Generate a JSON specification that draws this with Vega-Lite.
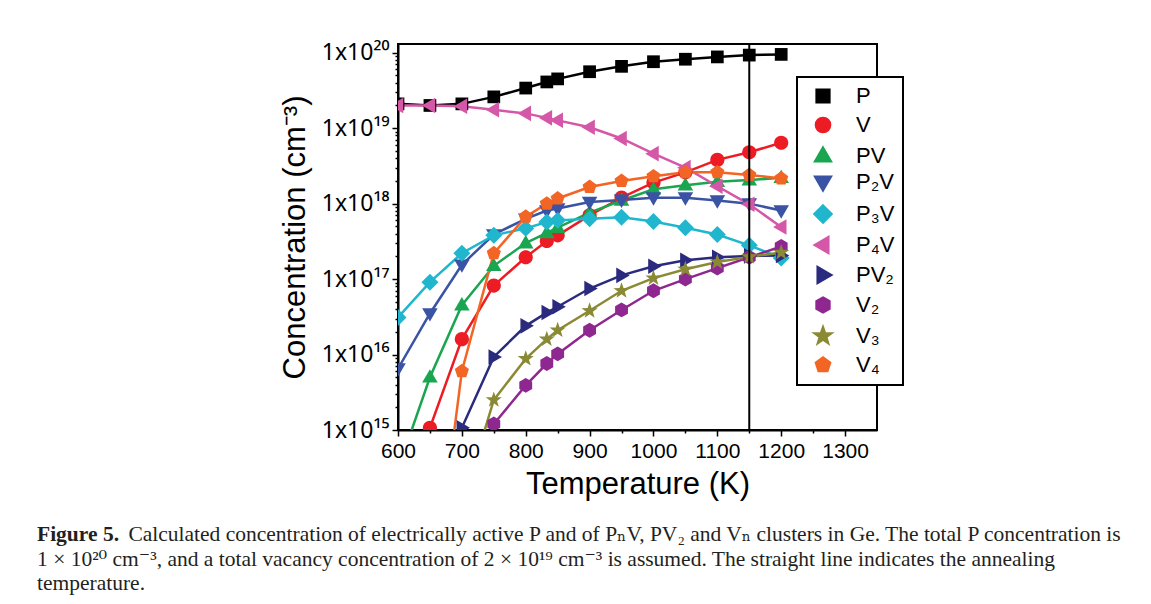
{
  "$schema": "https://vega.github.io/schema/vega-lite/v6.json",
  "width": 479,
  "height": 386,
  "autosize": {"type": "none"},
  "padding": {"left": 398, "top": 44, "right": 274, "bottom": 174},
  "background": "white",
  "config": {
    "view": {"stroke": "black", "strokeWidth": 2},
    "axis": {"grid": false, "domainColor": "black", "domainWidth": 2, "tickColor": "black", "tickWidth": 1.5, "labelColor": "black", "titleColor": "black", "labelFont": "Liberation Sans", "titleFont": "Liberation Sans", "titleFontWeight": "normal", "labelFlush": false},
    "legend": {"orient": "none", "legendX": 399, "legendY": 33, "title": null, "fillColor": "white", "strokeColor": "black", "padding": 8,
               "symbolOffset": 7, "labelOffset": 22, "rowPadding": 4, "labelFontSize": 22, "labelFont": "Liberation Sans", "labelColor": "black", "symbolSize": 200, "symbolStrokeWidth": 2.5, "labelLimit": 300}
  },
  "title": {
    "text": "Figure 5.",
    "subtitle": [
      "\u200b\u00a0\u00a0\u00a0\u00a0\u00a0\u00a0\u00a0\u00a0\u00a0\u00a0\u00a0\u00a0\u00a0\u00a0\u00a0\u00a0\u00a0Calculated concentration of electrically active P and of P\u2099V, PV\u2082 and V\u2099 clusters in Ge. The total P concentration is",
      "1 \u00d7 10\u00b2\u2070 cm\u207b\u00b3, and a total vacancy concentration of 2 \u00d7 10\u00b9\u2079 cm\u207b\u00b3 is assumed. The straight line indicates the annealing",
      "temperature."
    ],
    "orient": "bottom",
    "anchor": "start",
    "frame": "group",
    "dx": -361,
    "offset": 25,
    "font": "Liberation Serif, DejaVu Serif",
    "fontSize": 21.5,
    "fontWeight": "bold",
    "color": "#231f20",
    "subtitleFont": "Liberation Serif, DejaVu Serif",
    "subtitleFontSize": 21.5,
    "subtitleFontWeight": "normal",
    "subtitleColor": "#231f20",
    "subtitleLineHeight": 24.5,
    "subtitlePadding": -21.5
  },
  "datasets": {
    "conc": [
      {"s": "P", "T": 600, "c": 2.1e19}, {"s": "P", "T": 650, "c": 2.0e19}, {"s": "P", "T": 700, "c": 2.1e19}, {"s": "P", "T": 750, "c": 2.6e19}, {"s": "P", "T": 800, "c": 3.4e19}, {"s": "P", "T": 833, "c": 4.1e19}, {"s": "P", "T": 850, "c": 4.5e19}, {"s": "P", "T": 900, "c": 5.6e19}, {"s": "P", "T": 950, "c": 6.6e19}, {"s": "P", "T": 1000, "c": 7.6e19}, {"s": "P", "T": 1050, "c": 8.2e19}, {"s": "P", "T": 1100, "c": 8.8e19}, {"s": "P", "T": 1150, "c": 9.3e19}, {"s": "P", "T": 1200, "c": 9.5e19},
      {"s": "V", "T": 600, "c": 3e13}, {"s": "V", "T": 650, "c": 1.07e15}, {"s": "V", "T": 700, "c": 1.6e16}, {"s": "V", "T": 750, "c": 8.2e16}, {"s": "V", "T": 800, "c": 1.95e17}, {"s": "V", "T": 833, "c": 3.2e17}, {"s": "V", "T": 850, "c": 3.8e17}, {"s": "V", "T": 900, "c": 7.0e17}, {"s": "V", "T": 950, "c": 1.2e18}, {"s": "V", "T": 1000, "c": 1.9e18}, {"s": "V", "T": 1050, "c": 2.6e18}, {"s": "V", "T": 1100, "c": 3.8e18}, {"s": "V", "T": 1150, "c": 4.8e18}, {"s": "V", "T": 1200, "c": 6.4e18},
      {"s": "PV", "T": 600, "c": 3e14}, {"s": "PV", "T": 650, "c": 5e15}, {"s": "PV", "T": 700, "c": 4.5e16}, {"s": "PV", "T": 750, "c": 1.5e17}, {"s": "PV", "T": 800, "c": 3.0e17}, {"s": "PV", "T": 833, "c": 4.1e17}, {"s": "PV", "T": 850, "c": 4.8e17}, {"s": "PV", "T": 900, "c": 7.6e17}, {"s": "PV", "T": 950, "c": 1.1e18}, {"s": "PV", "T": 1000, "c": 1.55e18}, {"s": "PV", "T": 1050, "c": 1.75e18}, {"s": "PV", "T": 1100, "c": 1.95e18}, {"s": "PV", "T": 1150, "c": 2.05e18}, {"s": "PV", "T": 1200, "c": 2.2e18},
      {"s": "P\u2082V", "T": 600, "c": 6.5e15}, {"s": "P\u2082V", "T": 650, "c": 3.5e16}, {"s": "P\u2082V", "T": 700, "c": 1.55e17}, {"s": "P\u2082V", "T": 750, "c": 3.9e17}, {"s": "P\u2082V", "T": 800, "c": 6.3e17}, {"s": "P\u2082V", "T": 833, "c": 8.1e17}, {"s": "P\u2082V", "T": 850, "c": 8.6e17}, {"s": "P\u2082V", "T": 900, "c": 1.05e18}, {"s": "P\u2082V", "T": 950, "c": 1.12e18}, {"s": "P\u2082V", "T": 1000, "c": 1.2e18}, {"s": "P\u2082V", "T": 1050, "c": 1.2e18}, {"s": "P\u2082V", "T": 1100, "c": 1.1e18}, {"s": "P\u2082V", "T": 1150, "c": 1.0e18}, {"s": "P\u2082V", "T": 1200, "c": 8.1e17},
      {"s": "P\u2083V", "T": 600, "c": 3.1e16}, {"s": "P\u2083V", "T": 650, "c": 9.1e16}, {"s": "P\u2083V", "T": 700, "c": 2.2e17}, {"s": "P\u2083V", "T": 750, "c": 3.8e17}, {"s": "P\u2083V", "T": 800, "c": 4.7e17}, {"s": "P\u2083V", "T": 833, "c": 5.7e17}, {"s": "P\u2083V", "T": 850, "c": 6.0e17}, {"s": "P\u2083V", "T": 900, "c": 6.3e17}, {"s": "P\u2083V", "T": 950, "c": 6.6e17}, {"s": "P\u2083V", "T": 1000, "c": 5.8e17}, {"s": "P\u2083V", "T": 1050, "c": 4.8e17}, {"s": "P\u2083V", "T": 1100, "c": 3.9e17}, {"s": "P\u2083V", "T": 1150, "c": 2.8e17}, {"s": "P\u2083V", "T": 1200, "c": 1.9e17},
      {"s": "P\u2084V", "T": 600, "c": 2.0e19}, {"s": "P\u2084V", "T": 650, "c": 2.0e19}, {"s": "P\u2084V", "T": 700, "c": 1.95e19}, {"s": "P\u2084V", "T": 750, "c": 1.75e19}, {"s": "P\u2084V", "T": 800, "c": 1.57e19}, {"s": "P\u2084V", "T": 833, "c": 1.37e19}, {"s": "P\u2084V", "T": 850, "c": 1.27e19}, {"s": "P\u2084V", "T": 900, "c": 1.03e19}, {"s": "P\u2084V", "T": 950, "c": 7.3e18}, {"s": "P\u2084V", "T": 1000, "c": 4.6e18}, {"s": "P\u2084V", "T": 1050, "c": 3.0e18}, {"s": "P\u2084V", "T": 1100, "c": 1.7e18}, {"s": "P\u2084V", "T": 1150, "c": 9.8e17}, {"s": "P\u2084V", "T": 1200, "c": 4.9e17},
      {"s": "PV\u2082", "T": 650, "c": 1e13}, {"s": "PV\u2082", "T": 700, "c": 1.07e15}, {"s": "PV\u2082", "T": 750, "c": 9.3e15}, {"s": "PV\u2082", "T": 800, "c": 2.4e16}, {"s": "PV\u2082", "T": 833, "c": 3.6e16}, {"s": "PV\u2082", "T": 850, "c": 4.3e16}, {"s": "PV\u2082", "T": 900, "c": 7.5e16}, {"s": "PV\u2082", "T": 950, "c": 1.12e17}, {"s": "PV\u2082", "T": 1000, "c": 1.48e17}, {"s": "PV\u2082", "T": 1050, "c": 1.78e17}, {"s": "PV\u2082", "T": 1100, "c": 1.95e17}, {"s": "PV\u2082", "T": 1150, "c": 2.03e17}, {"s": "PV\u2082", "T": 1200, "c": 2.05e17},
      {"s": "V\u2082", "T": 700, "c": 5e13}, {"s": "V\u2082", "T": 750, "c": 1.2e15}, {"s": "V\u2082", "T": 800, "c": 3.9e15}, {"s": "V\u2082", "T": 833, "c": 7.6e15}, {"s": "V\u2082", "T": 850, "c": 1.02e16}, {"s": "V\u2082", "T": 900, "c": 2.1e16}, {"s": "V\u2082", "T": 950, "c": 3.9e16}, {"s": "V\u2082", "T": 1000, "c": 7.0e16}, {"s": "V\u2082", "T": 1050, "c": 1.0e17}, {"s": "V\u2082", "T": 1100, "c": 1.4e17}, {"s": "V\u2082", "T": 1150, "c": 1.95e17}, {"s": "V\u2082", "T": 1200, "c": 2.7e17},
      {"s": "V\u2083", "T": 700, "c": 1e14}, {"s": "V\u2083", "T": 750, "c": 2.5e15}, {"s": "V\u2083", "T": 800, "c": 8.8e15}, {"s": "V\u2083", "T": 833, "c": 1.6e16}, {"s": "V\u2083", "T": 850, "c": 2.1e16}, {"s": "V\u2083", "T": 900, "c": 3.8e16}, {"s": "V\u2083", "T": 950, "c": 7.0e16}, {"s": "V\u2083", "T": 1000, "c": 1.03e17}, {"s": "V\u2083", "T": 1050, "c": 1.35e17}, {"s": "V\u2083", "T": 1100, "c": 1.68e17}, {"s": "V\u2083", "T": 1150, "c": 1.97e17}, {"s": "V\u2083", "T": 1200, "c": 2.25e17},
      {"s": "V\u2084", "T": 650, "c": 3e12}, {"s": "V\u2084", "T": 700, "c": 6e15}, {"s": "V\u2084", "T": 750, "c": 2.2e17}, {"s": "V\u2084", "T": 800, "c": 6.7e17}, {"s": "V\u2084", "T": 833, "c": 1.0e18}, {"s": "V\u2084", "T": 850, "c": 1.17e18}, {"s": "V\u2084", "T": 900, "c": 1.66e18}, {"s": "V\u2084", "T": 950, "c": 2.0e18}, {"s": "V\u2084", "T": 1000, "c": 2.3e18}, {"s": "V\u2084", "T": 1050, "c": 2.6e18}, {"s": "V\u2084", "T": 1100, "c": 2.6e18}, {"s": "V\u2084", "T": 1150, "c": 2.4e18}, {"s": "V\u2084", "T": 1200, "c": 2.15e18}
    ],
    "anneal": [{"T": 1150}]
  },
  "resolve": {"axis": {"x": "independent", "y": "independent"}},
  "layer": [
    {
      "data": {"name": "conc"},
      "mark": {"type": "line", "strokeWidth": 2.5, "clip": true},
      "encoding": {
        "x": {"field": "T", "type": "quantitative", "scale": {"domain": [600, 1350], "nice": false, "zero": false},
              "axis": {"orient": "bottom", "values": [600, 700, 800, 900, 1000, 1100, 1200, 1300], "format": "d", "tickSize": 6, "labelFontSize": 21, "labelPadding": 4, "title": "Temperature (K)", "titleFontSize": 31, "titlePadding": 8}},
        "y": {"field": "c", "type": "quantitative", "scale": {"type": "log", "domain": [1e15, 1.305e20], "nice": false},
              "axis": {"orient": "left", "values": [1e15, 1e16, 1e17, 1e18, 1e19, 1e20], "tickSize": 6, "labelFont": "Noto Sans", "labelFontSize": 23, "labelPadding": 3,
                       "labelExpr": "datum.value > 5e19 ? '1x10\u00b2\u2070' : datum.value > 5e18 ? '1x10\u00b9\u2079' : datum.value > 5e17 ? '1x10\u00b9\u2078' : datum.value > 5e16 ? '1x10\u00b9\u2077' : datum.value > 5e15 ? '1x10\u00b9\u2076' : '1x10\u00b9\u2075'",
                       "title": "Concentration (cm\u207b\u00b3)", "titleFontSize": 31, "titlePadding": 10}},
        "color": {"field": "s", "type": "nominal",
                  "legend": {"encode": {"legend": {"update": {"strokeWidth": {"value": 2}}}}},
                  "scale": {"domain": ["P", "V", "PV", "P\u2082V", "P\u2083V", "P\u2084V", "PV\u2082", "V\u2082", "V\u2083", "V\u2084"],
                            "range": ["#000000", "#ED1C24", "#1AA550", "#3A53A4", "#1FB6CE", "#D558A8", "#2A2A7F", "#8E278F", "#8A8A35", "#F26524"]}}
      }
    },
    {
      "data": {"name": "conc"},
      "mark": {"type": "point", "filled": true, "opacity": 1, "size": 200, "strokeWidth": 1, "clip": true},
      "encoding": {
        "x": {"field": "T", "type": "quantitative",
              "axis": {"orient": "bottom", "values": [650, 750, 850, 950, 1050, 1150, 1250], "tickSize": 3, "labels": false, "title": null, "domain": false}},
        "y": {"field": "c", "type": "quantitative",
              "axis": {"orient": "left", "values": [2e15, 3e15, 4e15, 5e15, 6e15, 7e15, 8e15, 9e15, 2e16, 3e16, 4e16, 5e16, 6e16, 7e16, 8e16, 9e16, 2e17, 3e17, 4e17, 5e17, 6e17, 7e17, 8e17, 9e17, 2e18, 3e18, 4e18, 5e18, 6e18, 7e18, 8e18, 9e18, 2e19, 3e19, 4e19, 5e19, 6e19, 7e19, 8e19, 9e19], "tickSize": 3, "labels": false, "title": null, "domain": false}},
        "color": {"field": "s", "type": "nominal",
                  "legend": {"encode": {"legend": {"update": {"strokeWidth": {"value": 2}}}}}},
        "shape": {"field": "s", "type": "nominal", "legend": null,
                  "scale": {"domain": ["P", "V", "PV", "P\u2082V", "P\u2083V", "P\u2084V", "PV\u2082", "V\u2082", "V\u2083", "V\u2084"],
                            "range": [
                              "M-0.9,-0.9H0.9V0.9H-0.9Z",
                              "M1,0A1,1,0,1,1,-1,0A1,1,0,1,1,1,0Z",
                              "M0,-1.15L1.1,0.75H-1.1Z",
                              "M0,1.15L1.1,-0.75H-1.1Z",
                              "M0,-1.2L1.2,0L0,1.2L-1.2,0Z",
                              "M-1.15,0L0.75,-1.1V1.1Z",
                              "M1.15,0L-0.75,-1.1V1.1Z",
                              "M0,-1.05L0.909,-0.525L0.909,0.525L0,1.05L-0.909,0.525L-0.909,-0.525Z",
                              "M0,-1.2L0.282,-0.388L1.141,-0.371L0.456,0.148L0.705,0.971L0,0.48L-0.705,0.971L-0.456,0.148L-1.141,-0.371L-0.282,-0.388Z",
                              "M0,-1.05L0.999,-0.324L0.617,0.849L-0.617,0.849L-0.999,-0.324Z"
                            ]}}
      }
    },
    {
      "data": {"name": "anneal"},
      "mark": {"type": "rule", "color": "black", "strokeWidth": 2},
      "encoding": {"x": {"field": "T", "type": "quantitative", "axis": null}}
    }
  ]
}
